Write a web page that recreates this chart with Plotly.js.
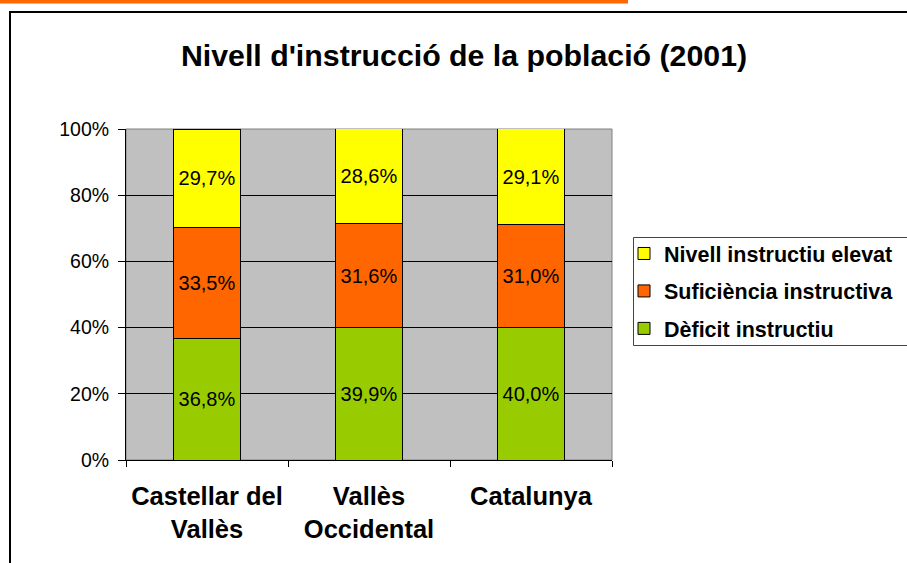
<!DOCTYPE html>
<html>
<head>
<meta charset="utf-8">
<script src="https://cdn.plot.ly/plotly-3.0.1.min.js"></script>
<style>html,body{margin:0;padding:0;background:#fff;}#chart{width:907px;height:563px;}</style>
</head>
<body>
<div id="chart"></div>
<script>
const categories = ['Castellar del<br>Vallès', 'Vallès<br>Occidental', 'Catalunya'];
const seriesNames = ['Dèficit instructiu', 'Suficiència instructiva', 'Nivell instructiu elevat'];
const deficit = [36.8, 39.9, 40.0];
const suficiencia = [33.5, 31.6, 31.0];
const elevat = [29.7, 28.6, 29.1];
const seriesColors = ['#99CC00', '#FF6600', '#FFFF00'];
const legendRanks = [3, 2, 1];
const yTicks = [0, 20, 40, 60, 80, 100];
const yTickLabels = ['0%', '20%', '40%', '60%', '80%', '100%'];

const W = 907, H = 563;
const M = {l: 126, r: W - 612, t: 129, b: H - 460, autoexpand: false};
const pw = W - M.l - M.r, ph = H - M.t - M.b;
const px = x => (x - M.l) / pw;
const py = y => (H - M.b - y) / ph;

const font = 'Liberation Sans, Arial, sans-serif';
const values = [deficit, suficiencia, elevat];
const traces = values.map((v, i) => ({
  type: 'bar',
  name: seriesNames[i],
  x: categories,
  y: v,
  legendgroup: 'g' + i,
  legendrank: legendRanks[i],
  marker: {color: seriesColors[i], line: {color: '#000', width: 1}},
  texttemplate: '%{y:.1f}%',
  textposition: 'inside',
  insidetextanchor: 'middle',
  textangle: 0,
  constraintext: 'none',
  insidetextfont: {family: font, size: 20, color: '#000'},
  hoverinfo: 'skip'
}));

const layout = {
  width: W, height: H,
  margin: M,
  barmode: 'stack',
  bargap: 0.586,
  separators: ',.',
  paper_bgcolor: '#fff',
  plot_bgcolor: '#C0C0C0',
  font: {family: font, color: '#000'},
  title: {
    text: "Nivell d'instrucció de la població (2001)",
    font: {family: font, size: 30.3, weight: 'bold', color: '#000'},
    x: 464 / W, xanchor: 'center', xref: 'container',
    y: 1 - 55 / H, yanchor: 'middle', yref: 'container'
  },
  xaxis: {
    type: 'category',
    tickson: 'boundaries',
    ticks: 'outside', ticklen: 6, tickcolor: '#000', tickwidth: 1,
    ticklabelstandoff: 13,
    showline: true, linecolor: '#000', linewidth: 1,
    showgrid: false,
    tickfont: {family: font, size: 25.5, weight: 'bold', color: '#000'},
    fixedrange: true
  },
  yaxis: {
    range: [0, 100],
    tickvals: yTicks,
    ticktext: yTickLabels,
    ticks: 'outside', ticklen: 7, tickcolor: '#000', tickwidth: 1,
    ticklabelstandoff: 5,
    showline: true, linecolor: '#000', linewidth: 1,
    showgrid: true, gridcolor: '#000', gridwidth: 1,
    zeroline: false,
    tickfont: {family: font, size: 19.5, color: '#000'},
    fixedrange: true
  },
  legend: {
    x: px(624), xanchor: 'left',
    y: py(233), yanchor: 'top',
    traceorder: 'grouped',
    tracegroupgap: 6.5,
    bgcolor: 'rgba(0,0,0,0)',
    borderwidth: 0,
    font: {family: font, size: 21.5, weight: 'bold', color: '#000'}
  },
  shapes: [
    {type: 'rect', xref: 'paper', yref: 'paper', x0: 0, x1: 1, y0: 0, y1: 1,
     line: {color: '#808080', width: 1}, layer: 'below'},
    {type: 'rect', xref: 'paper', yref: 'paper', x0: px(10), x1: px(W + 20), y0: py(H + 20), y1: py(12),
     line: {color: '#000', width: 2}, fillcolor: 'rgba(0,0,0,0)'},
    {type: 'rect', xref: 'paper', yref: 'paper', x0: px(0), x1: px(628), y0: py(3.5), y1: py(0),
     line: {width: 0}, fillcolor: '#FF6600'},
    {type: 'rect', xref: 'paper', yref: 'paper', x0: px(633.5), x1: px(W + 20), y0: py(345.5), y1: py(237.5),
     line: {color: '#444', width: 1}, fillcolor: 'rgba(0,0,0,0)'}
  ],
  showlegend: true
};

Plotly.newPlot('chart', traces, layout, {displayModeBar: false, staticPlot: true});
</script>
</body>
</html>
